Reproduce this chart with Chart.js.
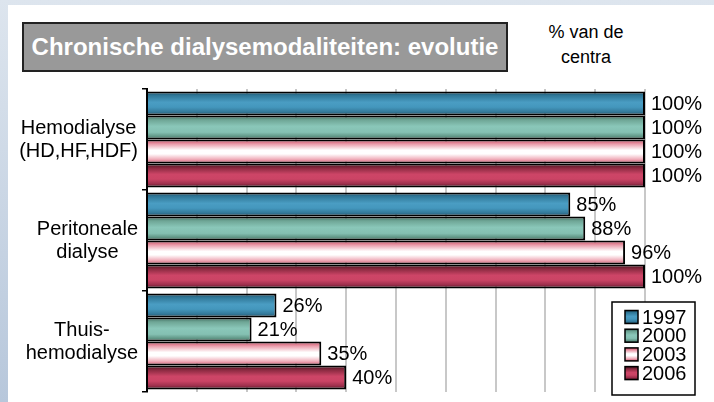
<!DOCTYPE html>
<html>
<head>
<meta charset="utf-8">
<script src="https://cdn.jsdelivr.net/npm/chart.js@4"></script>
<style>
  body { margin: 0; width: 714px; height: 402px; overflow: hidden; background: linear-gradient(#dde5ee, #b7c7db); font-family: "Liberation Sans", Arial, sans-serif; }
  #panel { position: absolute; left: 8px; top: 5px; right: 0; bottom: 0; background: #fff; }
  #title { position: absolute; left: 22px; top: 22px; width: 482px; height: 46px; background: #999; border: 2px solid #222; color: #fff; font-weight: bold; font-size: 24px; line-height: 46px; text-align: center; white-space: nowrap; }
  #unit { position: absolute; left: 538px; top: 20px; width: 96px; text-align: center; font-size: 18px; line-height: 25px; color: #000; }
  canvas { position: absolute; left: 0; top: 0; }
</style>
</head>
<body>
<div id="panel"></div>
<div id="title">Chronische dialysemodaliteiten: evolutie</div>
<div id="unit">% van de<br>centra</div>
<canvas id="chart" width="714" height="402"></canvas>
<script>
// categories and values (% of centres)
const categories = [["Hemodialyse", "(HD,HF,HDF)"], ["Peritoneale", "dialyse"], ["Thuis-", "hemodialyse"]];
const years = ["1997", "2000", "2003", "2006"];
const values1997 = [100, 85, 26];
const values2000 = [100, 88, 21];
const values2003 = [100, 96, 35];
const values2006 = [100, 100, 40];
const xMin = 0, xMax = 100, xStep = 10;

const CAT_PCT = 0.95;
const FONT = '"Liberation Sans", Arial, sans-serif';

// vertical "cylinder" shading for each year, top to bottom
const shades = [
  [[0, "#1c4a60"], [0.15, "#2e7595"], [0.45, "#4a9dc3"], [0.65, "#4497bd"], [0.85, "#33799a"], [1, "#1e4b62"]],
  [[0, "#3a6559"], [0.18, "#6ea595"], [0.45, "#8ac7b9"], [0.7, "#84c0b2"], [0.88, "#5e9383"], [1, "#365c50"]],
  [[0, "#c9475f"], [0.2, "#eba0ae"], [0.45, "#ffffff"], [0.6, "#ffffff"], [0.82, "#f0b0bc"], [1, "#cf516c"]],
  [[0, "#45121d"], [0.2, "#8d2b42"], [0.45, "#cd4567"], [0.65, "#cb4465"], [0.85, "#9c2f4c"], [1, "#47131e"]]
];

function makeGradient(ctx, top, h, stops) {
  const g = ctx.createLinearGradient(0, top, 0, top + h);
  stops.forEach(s => g.addColorStop(s[0], s[1]));
  return g;
}

function barFill(context) {
  const chart = context.chart;
  const d = context.datasetIndex;
  const y = chart.scales.y;
  if (!y || context.type !== "data" || y.bottom === undefined) return shades[d][2][1];
  const cat = (y.bottom - y.top) / categories.length;
  const h = cat * CAT_PCT / years.length;
  const top = y.getPixelForValue(context.dataIndex) - cat * CAT_PCT / 2 + d * h;
  return makeGradient(chart.ctx, top, h, shades[d]);
}

// category labels: block right aligned to the axis, lines centred inside it
const categoryLabels = {
  id: "categoryLabels",
  afterDraw(chart) {
    const ctx = chart.ctx, y = chart.scales.y;
    ctx.save();
    ctx.font = "20px " + FONT;
    ctx.fillStyle = "#000";
    ctx.textAlign = "center";
    ctx.textBaseline = "middle";
    const lh = 23;
    categories.forEach((lines, i) => {
      const w = Math.max(...lines.map(l => ctx.measureText(l).width));
      const cx = 138 - w / 2;
      const cy = y.getPixelForValue(i);
      lines.forEach((l, k) => ctx.fillText(l, cx, cy + (k - (lines.length - 1) / 2) * lh));
    });
    ctx.restore();
  }
};

// value labels at the end of each bar
const valueLabels = {
  id: "valueLabels",
  afterDatasetsDraw(chart) {
    const ctx = chart.ctx;
    ctx.save();
    ctx.font = "20px " + FONT;
    ctx.fillStyle = "#000";
    ctx.textAlign = "left";
    ctx.textBaseline = "middle";
    chart.data.datasets.forEach((ds, d) => {
      chart.getDatasetMeta(d).data.forEach((bar, i) => {
        ctx.fillText(ds.data[i] + "%", bar.x + 6, bar.y + 1);
      });
    });
    ctx.restore();
  }
};

// legend box inside the plot, bottom right
const boxLegend = {
  id: "boxLegend",
  afterDraw(chart) {
    const ctx = chart.ctx;
    const bx = 612, by = 302, bw = 83, bh = 93;
    ctx.save();
    ctx.fillStyle = "#fff";
    ctx.fillRect(bx, by, bw, bh);
    ctx.strokeStyle = "#000";
    ctx.lineWidth = 1.5;
    ctx.strokeRect(bx, by, bw, bh);
    ctx.font = "20px " + FONT;
    ctx.textBaseline = "middle";
    chart.data.datasets.forEach((ds, d) => {
      const cy = 317 + d * 18.7;
      const sx = 625, sy = cy - 6.5, s = 13;
      ctx.fillStyle = makeGradient(ctx, sy, s, shades[d]);
      ctx.fillRect(sx, sy, s, s);
      ctx.lineWidth = 1.5;
      ctx.strokeRect(sx, sy, s, s);
      ctx.fillStyle = "#000";
      ctx.fillText(ds.label, 642, cy + 1);
    });
    ctx.restore();
  }
};

const seriesValues = [values1997, values2000, values2003, values2006];

new Chart(document.getElementById("chart"), {
  type: "bar",
  data: {
    labels: categories.map(c => c.join(" ")),
    datasets: years.map((yr, d) => ({
      label: yr,
      data: seriesValues[d],
      backgroundColor: barFill,
      borderColor: "#000",
      borderWidth: 2,
      borderSkipped: "start",
      categoryPercentage: CAT_PCT,
      barPercentage: 1
    }))
  },
  options: {
    indexAxis: "y",
    responsive: false,
    animation: false,
    layout: { padding: { top: 89, right: 69, bottom: 10, left: 0 } },
    plugins: { legend: { display: false }, tooltip: { enabled: false } },
    scales: {
      x: {
        min: xMin, max: xMax,
        ticks: { display: false, stepSize: xStep },
        grid: { color: "#c8c8c8", lineWidth: 2, drawTicks: false },
        border: { display: false },
        afterFit(axis) { axis.height = 0; }
      },
      y: {
        ticks: { display: false },
        grid: { drawOnChartArea: false, color: "#000", lineWidth: 1.5, tickLength: 5 },
        border: { color: "#000", width: 2 },
        afterFit(axis) { axis.width = 147; }
      }
    }
  },
  plugins: [valueLabels, categoryLabels, boxLegend]
});
</script>
</body>
</html>
